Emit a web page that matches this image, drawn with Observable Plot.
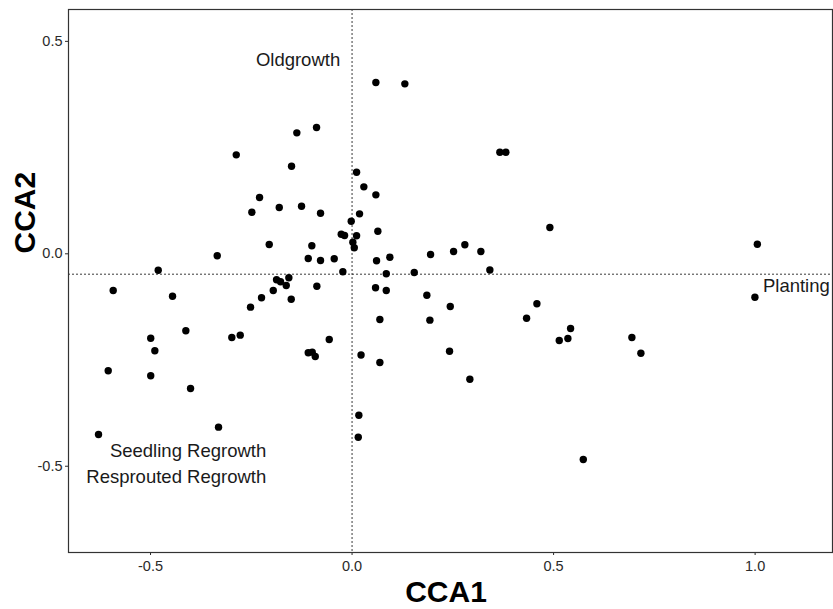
<!DOCTYPE html>
<html><head><meta charset="utf-8">
<script src="https://cdn.jsdelivr.net/npm/d3@7"></script>
<script src="https://cdn.jsdelivr.net/npm/@observablehq/plot@0.6"></script>
<style>body{margin:0;background:#fff} svg{display:block}</style>
</head><body><div id="chart"></div>
<script>
const cca1 = [-0.2873,-0.1370,-0.0881,-0.1501,0.0112,-0.2295,-0.2486,-0.1806,-0.1253,-0.0782,
  -0.0020,0.0186,-0.0268,-0.0186,0.0112,0.0020,0.0055,-0.2055,-0.0998,-0.3345,
  -0.1087,-0.0782,-0.0442,-0.4809,-0.0228,-0.1873,-0.1774,-0.1633,-0.1568,0.0591,
  0.1310,0.3667,0.3816,0.0293,0.0591,0.0640,0.4908,0.2799,0.2519,0.3196,
  0.1948,0.0608,0.0938,0.0849,0.1543,0.3419,-0.5926,-0.4454,-0.1955,-0.2246,
  -0.0873,-0.1509,-0.2519,-0.4124,-0.4995,-0.4893,-0.2983,-0.2774,-0.0566,-0.1087,
  -0.0988,-0.0913,0.0223,-0.6050,-0.4995,-0.4007,0.0169,-0.3313,0.0154,-0.6290,
  0.0583,0.0849,0.1856,0.2437,0.0690,0.1931,0.4330,0.4586,0.5422,0.5141,
  0.5355,0.6943,0.7166,0.0690,0.2419,0.2923,0.5737,1.0055,0.9995];
const cca2 = [0.2329,0.2847,0.2972,0.2061,0.1920,0.1325,0.0979,0.1089,0.1120,0.0955,
  0.0767,0.0941,0.0461,0.0431,0.0424,0.0273,0.0141,0.0219,0.0188,-0.0047,
  -0.0111,-0.0158,-0.0118,-0.0386,-0.0424,-0.0612,-0.0659,-0.0746,-0.0565,0.4031,
  0.4000,0.2391,0.2391,0.1576,0.1388,0.0532,0.0619,0.0212,0.0054,0.0054,
  -0.0016,-0.0165,-0.0080,-0.0471,-0.0440,-0.0381,-0.0864,-0.0998,-0.0864,-0.1035,
  -0.0762,-0.1068,-0.1256,-0.1812,-0.1986,-0.2282,-0.1969,-0.1915,-0.2016,-0.2329,
  -0.2315,-0.2416,-0.2381,-0.2753,-0.2871,-0.3169,-0.3798,-0.4080,-0.4318,-0.4252,
  -0.0800,-0.0864,-0.0974,-0.1240,-0.1546,-0.1562,-0.1515,-0.1176,-0.1758,-0.2040,
  -0.1993,-0.1969,-0.2339,-0.2558,-0.2292,-0.2951,-0.4840,0.0226,-0.1021];

const labelText = ["Oldgrowth", "Seedling Regrowth", "Resprouted Regrowth", "Planting"];
const labelX = [-0.134, -0.2129, -0.2129, 1.0194];
const labelY = [0.455, -0.4652, -0.5244, -0.0748];
const labelAnchor = ["middle", "end", "end", "start"];

const xTicks = [-0.5, 0, 0.5, 1.0];
const yTicks = [-0.5, 0, 0.5];
const refX = [0];
const refY = [-0.048];
const xTitle = "CCA1";
const yTitle = "CCA2";

const points = cca1.map((x, i) => ({x, y: cca2[i]}));
const labels = labelText.map((t, i) => ({t, x: labelX[i], y: labelY[i], a: labelAnchor[i]}));
const fmt = d => d.toFixed(1);
const font = "Liberation Sans, Arial, Helvetica, sans-serif";

const chart = Plot.plot({
  width: 833,
  height: 609,
  marginLeft: 68,
  marginRight: 1,
  marginTop: 9,
  marginBottom: 57,
  style: {fontFamily: font, background: "#fff"},
  x: {domain: [-0.7035, 1.192]},
  y: {domain: [-0.703, 0.575]},
  marks: [
    Plot.ruleX(refX, {stroke: "#222", strokeWidth: 0.9, strokeDasharray: "2,2"}),
    Plot.ruleY(refY, {stroke: "#222", strokeWidth: 0.9, strokeDasharray: "2,2"}),
    Plot.dot(points, {x: "x", y: "y", r: 3.7, fill: "#000", stroke: "none"}),
    ...["middle", "end", "start"].map(a =>
      Plot.text(labels.filter(d => d.a === a), {x: "x", y: "y", text: "t", textAnchor: a,
        fontSize: 18.5, fill: "#1a1a1a", lineAnchor: "middle"})),
    Plot.axisX({ticks: xTicks, tickFormat: fmt, tickSize: 3, tickPadding: 5, fontSize: 14.5,
      color: "#2a2a2a", label: null}),
    Plot.axisY({ticks: yTicks, tickFormat: fmt, tickSize: 3, tickPadding: 3, fontSize: 14.5,
      color: "#2a2a2a", label: null}),
    Plot.frame({stroke: "#333", strokeWidth: 1.2}),
    Plot.text([xTitle], {frameAnchor: "bottom", dy: 40, dx: -4.5, text: d => d,
      fontSize: 30, fontWeight: "bold", fill: "#000", lineAnchor: "middle"}),
    Plot.text([yTitle], {frameAnchor: "left", dx: -43, dy: -27.5, rotate: -90, text: d => d,
      fontSize: 30, fontWeight: "bold", fill: "#000", lineAnchor: "middle"})
  ]
});
document.getElementById("chart").appendChild(chart);
</script>
</body></html>
